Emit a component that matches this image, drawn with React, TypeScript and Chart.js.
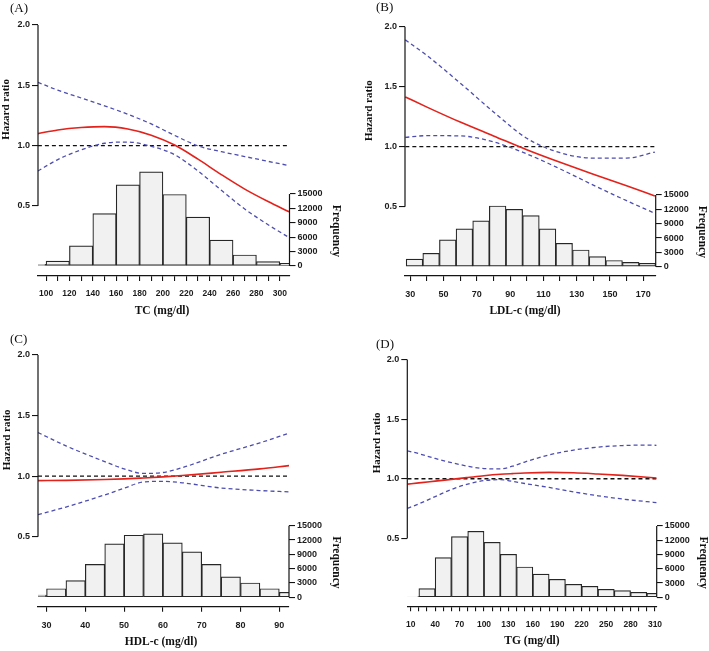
import React, { useEffect, useRef } from 'react';
import { Chart, registerables } from 'chart.js';

Chart.register(...registerables);

// ---------------- data ----------------
const HR_TICKS = [0.5, 1.0, 1.5, 2.0];
const FREQ_TICKS = [0, 3000, 6000, 9000, 12000, 15000];

// (A) TC
const TC_X = [93, 110, 130, 150, 170, 190, 210, 230, 250, 270, 290, 308];
const TC_HR = [1.1, 1.13, 1.15, 1.158, 1.138, 1.087, 1.005, 0.888, 0.76, 0.64, 0.537, 0.452];
const TC_UPPER = [1.525, 1.46, 1.395, 1.33, 1.26, 1.18, 1.085, 0.998, 0.95, 0.91, 0.87, 0.835];
const TC_LOWER = [0.79, 0.885, 0.965, 1.02, 1.03, 0.995, 0.925, 0.79, 0.63, 0.475, 0.345, 0.238];
const TC_BINS = [90, 110, 130, 150, 170, 190, 210, 230, 250, 270, 290, 310];
const TC_FREQ = [350, 1040, 4200, 10900, 16900, 19600, 14900, 10200, 5400, 2300, 900, 550];
const TC_TICKS = [100, 110, 120, 130, 140, 150, 160, 170, 180, 190, 200, 210, 220, 230, 240, 250, 260, 270, 280, 290, 300];
const TC_LABELS = [100, 120, 140, 160, 180, 200, 220, 240, 260, 280, 300];

// (B) LDL-c
const LDL_X = [27, 40, 60, 80, 100, 120, 140, 160, 177];
const LDL_HR = [1.415, 1.33, 1.205, 1.09, 0.975, 0.87, 0.77, 0.675, 0.59];
const LDL_UPPER = [1.89, 1.76, 1.53, 1.29, 1.07, 0.95, 0.905, 0.905, 0.955];
const LDL_LOWER = [1.078, 1.092, 1.09, 1.04, 0.94, 0.815, 0.68, 0.55, 0.445];
const LDL_BINS = [32.5, 42.5, 52.5, 62.5, 72.5, 82.5, 92.5, 102.5, 112.5, 122.5, 132.5, 142.5, 152.5, 162.5, 172.5];
const LDL_FREQ = [1600, 2800, 5600, 7900, 9600, 12700, 12000, 10700, 7900, 4900, 3500, 2100, 1300, 900, 700];
const LDL_TICKS = [30, 40, 50, 60, 70, 80, 90, 100, 110, 120, 130, 140, 150, 160, 170];
const LDL_LABELS = [30, 50, 70, 90, 110, 130, 150, 170];

// (C) HDL-c
const HDL_X = [27.8, 35, 45, 50, 55, 60, 65, 75, 85, 92.5];
const HDL_HR = [0.963, 0.965, 0.972, 0.977, 0.985, 0.994, 1.005, 1.032, 1.06, 1.087];
const HDL_UPPER = [1.36, 1.25, 1.12, 1.06, 1.022, 1.03, 1.07, 1.18, 1.275, 1.355];
const HDL_LOWER = [0.682, 0.745, 0.845, 0.9, 0.952, 0.957, 0.945, 0.902, 0.881, 0.87];
const HDL_BINS = [27.5, 32.5, 37.5, 42.5, 47.5, 52.5, 57.5, 62.5, 67.5, 72.5, 77.5, 82.5, 87.5, 92.5];
const HDL_FREQ = [490, 1800, 3500, 6900, 11200, 13000, 13300, 11400, 9500, 6900, 4300, 3000, 1800, 1050];
const HDL_TICKS = [30, 40, 50, 60, 70, 80, 90];
const HDL_LABELS = [30, 40, 50, 60, 70, 80, 90];

// (D) TG
const TG_X = [6, 20, 40, 60, 80, 100, 120, 135, 150, 180, 210, 240, 270, 300, 312];
const TG_HR = [0.955, 0.965, 0.98, 0.995, 1.01, 1.025, 1.037, 1.043, 1.048, 1.053, 1.05, 1.04, 1.028, 1.013, 1.006];
const TG_UPPER = [1.234, 1.21, 1.17, 1.135, 1.105, 1.085, 1.082, 1.105, 1.14, 1.2, 1.24, 1.265, 1.278, 1.282, 1.28];
const TG_LOWER = [0.752, 0.79, 0.85, 0.91, 0.955, 0.984, 0.992, 0.978, 0.96, 0.927, 0.89, 0.857, 0.83, 0.808, 0.8];
const TG_BINS = [10, 30, 50, 70, 90, 110, 130, 150, 170, 190, 210, 230, 250, 270, 290, 310];
const TG_FREQ = [140, 1820, 8340, 12760, 13880, 11570, 9040, 6380, 4900, 3790, 2730, 2310, 1680, 1400, 1050, 840];
const TG_TICKS = [10, 20, 30, 40, 50, 60, 70, 80, 90, 100, 110, 120, 130, 140, 150, 160, 170, 180, 190, 200, 210, 220, 230, 240, 250, 260, 270, 280, 290, 300, 310];
const TG_LABELS = [10, 40, 70, 100, 130, 160, 190, 220, 250, 280, 310];

// ---------------- styles / layout ----------------
const RED = '#e3221c';
const BLUE = '#4d4db0';
const AXIS = '#141414';
const SANS = "'Liberation Sans', Arial, sans-serif";
const SERIF = "'Liberation Serif', 'Times New Roman', serif";

type Geo = {
  left: number; top: number; w: number; h: number;
  areaL: number; areaR: number; y2: number; y05: number; f15: number; f0: number; axisY: number;
  xMin: number; xMax: number; hrTitleX: number; xTitleX: number; tagX: number; tagY: number; xTickSize: number;
};

type PanelSpec = {
  tag: string; xTitle: string;
  x: number[]; hr: number[]; upper: number[]; lower: number[];
  bins: number[]; freq: number[]; xTicks: number[]; xLabels: number[];
  geo: Geo;
};

const PANELS: PanelSpec[] = [
  {
    tag: '(A)', xTitle: 'TC (mg/dl)', x: TC_X, hr: TC_HR, upper: TC_UPPER, lower: TC_LOWER,
    bins: TC_BINS, freq: TC_FREQ, xTicks: TC_TICKS, xLabels: TC_LABELS,
    geo: { left: 0, top: 0, w: 354, h: 325, areaL: 38, areaR: 289.5, y2: 25, y05: 206, f15: 194, f0: 266, axisY: 276,
      xMin: 93.1, xMax: 308.3, hrTitleX: 6, xTitleX: 162, tagX: 10, tagY: 8.5, xTickSize: 8.5 },
  },
  {
    tag: '(B)', xTitle: 'LDL-c (mg/dl)', x: LDL_X, hr: LDL_HR, upper: LDL_UPPER, lower: LDL_LOWER,
    bins: LDL_BINS, freq: LDL_FREQ, xTicks: LDL_TICKS, xLabels: LDL_LABELS,
    geo: { left: 354, top: 0, w: 355, h: 325, areaL: 51, areaR: 301.7, y2: 26.7, y05: 206.7, f15: 195, f0: 266.7, axisY: 276,
      xMin: 26.8, xMax: 177.5, hrTitleX: 15, xTitleX: 171, tagX: 22, tagY: 8, xTickSize: 9 },
  },
  {
    tag: '(C)', xTitle: 'HDL-c (mg/dl)', x: HDL_X, hr: HDL_HR, upper: HDL_UPPER, lower: HDL_LOWER,
    bins: HDL_BINS, freq: HDL_FREQ, xTicks: HDL_TICKS, xLabels: HDL_LABELS,
    geo: { left: 0, top: 330, w: 354, h: 321, areaL: 38, areaR: 289, y2: 25, y05: 206.7, f15: 195.7, f0: 267.3, axisY: 276.7,
      xMin: 27.8, xMax: 92.5, hrTitleX: 7, xTitleX: 161, tagX: 10, tagY: 9.5, xTickSize: 9 },
  },
  {
    tag: '(D)', xTitle: 'TG (mg/dl)', x: TG_X, hr: TG_HR, upper: TG_UPPER, lower: TG_LOWER,
    bins: TG_BINS, freq: TG_FREQ, xTicks: TG_TICKS, xLabels: TG_LABELS,
    geo: { left: 354, top: 330, w: 355, h: 321, areaL: 53.3, areaR: 302.7, y2: 29.4, y05: 208.4, f15: 196, f0: 267.3, axisY: 276.3,
      xMin: 5.8, xMax: 312.1, hrTitleX: 23, xTitleX: 178, tagX: 22, tagY: 15, xTickSize: 8.5 },
  },
];

const rAxesPlugin = {
  id: 'rAxes',
  afterDraw(chart: any, _args: any, o: any) {
    const { ctx, chartArea: a, scales } = chart;
    const yH = scales.yH;
    const yF = scales.yF;
    ctx.save();
    ctx.strokeStyle = AXIS;
    ctx.lineWidth = 1.2;
    ctx.beginPath();
    ctx.moveTo(a.left, yH.getPixelForValue(HR_TICKS[0]));
    ctx.lineTo(a.left, yH.getPixelForValue(HR_TICKS[HR_TICKS.length - 1]));
    ctx.moveTo(a.right, yF.getPixelForValue(FREQ_TICKS[0]));
    ctx.lineTo(a.right, yF.getPixelForValue(FREQ_TICKS[FREQ_TICKS.length - 1]));
    ctx.stroke();

    ctx.fillStyle = '#111';
    ctx.textAlign = 'center';
    ctx.textBaseline = 'middle';
    ctx.font = `bold 11px ${SERIF}`;
    ctx.save();
    ctx.translate(o.hrTitleX, yH.getPixelForValue(1.3));
    ctx.rotate(-Math.PI / 2);
    ctx.fillText('Hazard ratio', 0, 0);
    ctx.restore();

    ctx.font = `bold 11.5px ${SERIF}`;
    ctx.save();
    ctx.translate(a.right + 46.5, yF.getPixelForValue(7300));
    ctx.rotate(Math.PI / 2);
    ctx.fillText('Frequency', 0, 0);
    ctx.restore();

    ctx.font = `bold 11.5px ${SERIF}`;
    ctx.fillText(o.xTitle, o.xTitleX, a.bottom + 35);

    ctx.font = `13px ${SERIF}`;
    ctx.textAlign = 'left';
    ctx.fillText(o.tag, o.tagX, o.tagY);
    ctx.restore();
  },
};

function buildChart(canvas: HTMLCanvasElement, p: PanelSpec) {
  const g = p.geo;
  const T = g.y2 - 14;
  const pxHR = (g.y05 - g.y2) / 1.5;
  const hrMax = 2 + (g.y2 - T) / pxHR;
  const hrMin = 2 - (g.axisY - g.y2) / pxHR;
  const pxF = (g.f0 - g.f15) / 15000;
  const fMax = (g.f0 - T) / pxF;
  const fMin = -(g.axisY - g.f0) / pxF;
  const pxX = (g.areaR - g.areaL) / (g.xMax - g.xMin);
  const binWidthPx = (p.bins[1] - p.bins[0]) * pxX;
  const yFont = { family: SANS, size: 9, weight: 'bold' as const };
  const xFont = { family: SANS, size: g.xTickSize, weight: 'bold' as const };

  const line = (vals: number[], color: string, width: number, dash: number[], order: number) => ({
    type: 'line' as const,
    data: p.x.map((x, i) => ({ x, y: vals[i] })),
    xAxisID: 'x',
    yAxisID: 'yH',
    borderColor: color,
    borderWidth: width,
    borderDash: dash,
    pointRadius: 0,
    cubicInterpolationMode: 'monotone' as const,
    fill: false,
    order,
  });

  return new Chart(canvas, {
    type: 'bar',
    data: {
      datasets: [
        line(p.hr, RED, 1.6, [], 0),
        line(p.upper, BLUE, 1.3, [4, 3], 1),
        line(p.lower, BLUE, 1.3, [4, 3], 1),
        {
          type: 'line',
          data: [{ x: p.x[0], y: 1 }, { x: p.x[p.x.length - 1], y: 1 }],
          xAxisID: 'x',
          yAxisID: 'yH',
          borderColor: '#111',
          borderWidth: 1.3,
          borderDash: [4, 3],
          pointRadius: 0,
          fill: false,
          order: 2,
        },
        {
          type: 'bar',
          data: p.bins.map((x, i) => ({ x, y: p.freq[i] })),
          xAxisID: 'x',
          yAxisID: 'yF',
          backgroundColor: '#f1f1f1',
          borderColor: '#262626',
          borderWidth: 1.2,
          borderSkipped: false,
          barThickness: binWidthPx,
          clip: 0,
          order: 3,
        },
      ] as any,
    },
    options: {
      responsive: false,
      animation: false,
      devicePixelRatio: 1,
      layout: { padding: { top: T, left: 0, right: 0, bottom: 0 } },
      plugins: {
        legend: { display: false },
        tooltip: { enabled: false },
        rAxes: { hrTitleX: g.hrTitleX, xTitle: p.xTitle, xTitleX: g.xTitleX, tag: p.tag, tagX: g.tagX, tagY: g.tagY },
      } as any,
      scales: {
        x: {
          type: 'linear', position: 'bottom', min: g.xMin, max: g.xMax, offset: false,
          afterBuildTicks: (s: any) => { s.ticks = p.xTicks.map((v) => ({ value: v })); },
          afterFit: (s: any) => { s.height = g.h - g.axisY; },
          ticks: {
            autoSkip: false, maxRotation: 0, minRotation: 0, padding: 8, color: '#1c1c1c', font: xFont,
            callback: (v: any) => (p.xLabels.includes(Number(v)) ? String(v) : ''),
          },
          grid: { offset: false, drawOnChartArea: false, drawTicks: true, tickLength: 5, color: AXIS, lineWidth: 1.1 },
          border: { display: true, color: AXIS, width: 1.2 },
        },
        yH: {
          type: 'linear', position: 'left', min: hrMin, max: hrMax,
          afterBuildTicks: (s: any) => { s.ticks = HR_TICKS.map((v) => ({ value: v })); },
          afterFit: (s: any) => { s.width = g.areaL; },
          ticks: { padding: 2, color: '#1c1c1c', font: yFont, callback: (v: any) => Number(v).toFixed(1) },
          grid: { drawOnChartArea: false, drawTicks: true, tickLength: 6, color: AXIS, lineWidth: 1.1 },
          border: { display: false },
        },
        yF: {
          type: 'linear', position: 'right', min: fMin, max: fMax,
          afterBuildTicks: (s: any) => { s.ticks = FREQ_TICKS.map((v) => ({ value: v })); },
          afterFit: (s: any) => { s.width = g.w - g.areaR; },
          ticks: { padding: 2, color: '#1c1c1c', font: yFont, callback: (v: any) => String(v) },
          grid: { drawOnChartArea: false, drawTicks: true, tickLength: 6, color: AXIS, lineWidth: 1.1 },
          border: { display: false },
        },
      } as any,
    },
    plugins: [rAxesPlugin],
  });
}

function Panel({ spec }: { spec: PanelSpec }) {
  const ref = useRef<HTMLCanvasElement>(null);
  useEffect(() => {
    if (!ref.current) return;
    const chart = buildChart(ref.current, spec);
    return () => chart.destroy();
  }, [spec]);
  const g = spec.geo;
  return (
    <canvas
      ref={ref}
      width={g.w}
      height={g.h}
      style={{ position: 'absolute', left: g.left, top: g.top, width: g.w, height: g.h }}
    />
  );
}

export default function App() {
  return (
    <div style={{ position: 'absolute', left: 0, top: 0, width: 709, height: 651, background: '#ffffff', overflow: 'hidden' }}>
      {PANELS.map((p) => (
        <Panel key={p.tag} spec={p} />
      ))}
    </div>
  );
}
